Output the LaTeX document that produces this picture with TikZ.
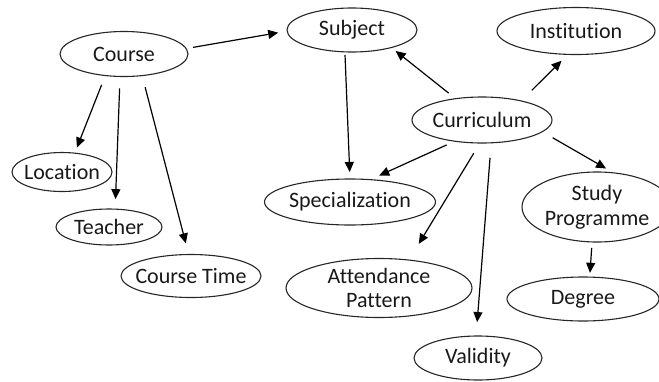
\documentclass[tikz,border=0pt]{standalone}
\usepackage{fontspec}
\setmainfont{Carlito}[Ligatures={NoCommon}]
\usetikzlibrary{shapes.geometric,arrows.meta}
\begin{document}
\begin{tikzpicture}[x=1pt,y=-1pt,
  ent/.style={draw=black!85, line width=1.1pt, ellipse, inner sep=0pt, outer sep=0pt},
  txt/.style={font=\fontsize{22}{24.5}\selectfont, text=black!90, align=center, inner sep=0pt},
  arr/.style={line width=1.2pt, -{Triangle[length=10pt,width=9pt]}}]
\useasboundingbox (0,0) rectangle (659,381);
% nodes
\node[ent, minimum width=128pt, minimum height=45pt, label={[txt]center:Course}] (course) at (124,54) {};
\node[ent, minimum width=130pt, minimum height=44pt, label={[txt]center:Subject}] (subj) at (352,30) {};
\node[ent, minimum width=158pt, minimum height=47pt, label={[txt]center:Institution}] (inst) at (576,31) {};
\node[ent, minimum width=140pt, minimum height=46pt, label={[txt]center:Curriculum}] (curr) at (482,120) {};
\node[ent, minimum width=100pt, minimum height=39pt, label={[txt]center:Location}] (loc) at (62,172) {};
\node[ent, minimum width=106pt, minimum height=36pt, label={[txt]center:Teacher}] (teach) at (109,227) {};
\node[ent, minimum width=140pt, minimum height=43pt, label={[txt]center:Course Time}] (ctime) at (191,276) {};
\node[ent, minimum width=171pt, minimum height=46pt, label={[txt]center:Specialization}] (spec) at (350,202) {};
\node[ent, minimum width=186pt, minimum height=59pt, label={[txt]center:{Attendance\\Pattern}}] (att) at (379,288) {};
\node[ent, minimum width=128pt, minimum height=44pt, label={[txt]center:Validity}] (valid) at (478,358) {};
\node[ent, minimum width=150pt, minimum height=70pt, label={[txt]center:{Study\\Programme}}] (study) at (597,207) {};
\node[ent, minimum width=152pt, minimum height=44pt, label={[txt]center:Degree}] (degree) at (583,299) {};
% connectors
\draw[arr, shorten <=7pt, shorten >=9pt] (course.5) -- (subj.181.5);
\draw[arr, shorten <=10pt, shorten >=6pt] (course.229) -- (loc.56);
\draw[arr, shorten <=12pt, shorten >=10pt] (course.260) -- (teach.71.6);
\draw[arr, shorten <=12pt, shorten >=11.5pt] (course.-50) -- (ctime.96.9);
\draw[arr, shorten <=3pt, shorten >=7pt] (subj.252) -- (spec.90);
\draw[arr, shorten <=9pt, shorten >=5.5pt] (curr.141.5) -- (subj.-24.4);
\draw[arr, shorten <=15pt, shorten >=9pt] (curr.26.6) -- (inst.251);
\draw[arr, shorten <=9pt, shorten >=10pt] (curr.218.5) -- (spec.48);
\draw[arr, shorten <=12pt, shorten >=8.7pt] (curr.-11) -- (study.64.5);
\draw[arr, shorten <=12pt, shorten >=19pt] (curr.265) -- (att.43.6);
\draw[arr, shorten <=15pt, shorten >=14pt] (curr.-68) -- (valid.95);
\draw[arr, shorten <=6pt, shorten >=4.3pt] (study.262) -- (degree.73);
\end{tikzpicture}
\end{document}
